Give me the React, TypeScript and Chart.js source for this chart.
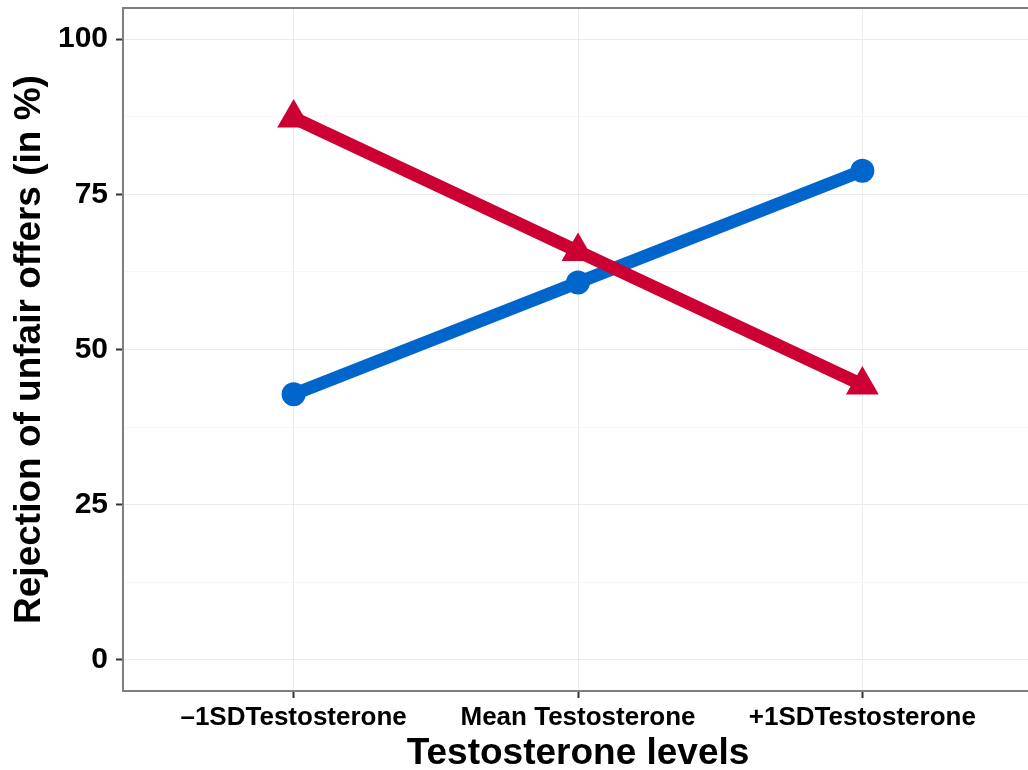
import React, { useEffect, useRef } from "react";
import { Chart, registerables } from "chart.js";

Chart.register(...registerables);

const categories = ["–1SDTestosterone", "Mean Testosterone", "+1SDTestosterone"];
const seriesRed = [87.3, 65.8, 44.3];
const seriesBlue = [42.8, 60.8, 78.8];
const yTicks = [0, 12.5, 25, 37.5, 50, 62.5, 75, 87.5, 100];
const yLabelled = [0, 25, 50, 75, 100];

const FONT = "'Liberation Sans', Arial, Helvetica, sans-serif";

const framePlugin = {
  id: "frame",
  afterDraw(chart: any) {
    const { ctx, chartArea } = chart;
    ctx.save();
    ctx.strokeStyle = "#7f7f7f";
    ctx.lineWidth = 2;
    ctx.strokeRect(chartArea.left, chartArea.top, chartArea.right - chartArea.left, chartArea.bottom - chartArea.top);
    ctx.restore();
  },
};

const zeroPadding = (scale: any) => {
  scale.paddingTop = 0;
  scale.paddingBottom = 0;
  scale.paddingLeft = 0;
  scale.paddingRight = 0;
};

export default function App() {
  const ref = useRef<HTMLCanvasElement | null>(null);

  useEffect(() => {
    document.body.style.margin = "0";
    const canvas = ref.current;
    if (!canvas) return;
    const chart = new Chart(canvas, {
      type: "line",
      data: {
        datasets: [
          {
            label: "Condition B",
            data: seriesRed.map((v, i) => ({ x: i, y: v })),
            borderColor: "#CC0033",
            backgroundColor: "#CC0033",
            borderWidth: 13,
            pointStyle: "triangle",
            pointRadius: 19,
            pointBorderWidth: 0,
            pointBackgroundColor: "#CC0033",
            tension: 0,
          },
          {
            label: "Condition A",
            data: seriesBlue.map((v, i) => ({ x: i, y: v })),
            borderColor: "#0066CC",
            backgroundColor: "#0066CC",
            borderWidth: 13,
            pointStyle: "circle",
            pointRadius: 12,
            pointBorderWidth: 0,
            pointBackgroundColor: "#0066CC",
            tension: 0,
          },
        ],
      },
      plugins: [framePlugin],
      options: {
        animation: false,
        responsive: false,
        devicePixelRatio: 1,
        layout: { autoPadding: false, padding: { top: 8, right: 3, left: 0, bottom: 0 } },
        plugins: { legend: { display: false }, tooltip: { enabled: false } },
        scales: {
          x: {
            type: "linear",
            min: -0.6,
            max: 2.6,
            afterBuildTicks: (scale: any) => {
              scale.ticks = categories.map((_, i) => ({ value: i }));
            },
            afterFit: (scale: any) => {
              scale.height = 79;
              zeroPadding(scale);
            },
            ticks: {
              autoSkip: false,
              maxRotation: 0,
              padding: 4,
              color: "#000",
              font: { family: FONT, size: 26, weight: "bold" },
              callback: (v: any) => categories[Math.round(Number(v))] ?? "",
            },
            grid: {
              color: "#ebebeb",
              lineWidth: 1,
              drawTicks: true,
              tickLength: 7,
              tickColor: "#333333",
              tickWidth: 2,
            },
            border: { display: false },
            title: {
              display: true,
              text: "Testosterone levels",
              color: "#000",
              font: { family: FONT, size: 37, weight: "bold", lineHeight: 0.85 },
              padding: { top: 0, bottom: 0 },
            },
          },
          y: {
            type: "linear",
            min: -5,
            max: 105,
            afterBuildTicks: (scale: any) => {
              scale.ticks = yTicks.map((v) => ({ value: v }));
            },
            afterFit: (scale: any) => {
              scale.width = 123;
              zeroPadding(scale);
            },
            ticks: {
              autoSkip: false,
              padding: 8,
              color: "#000",
              font: { family: FONT, size: 30, weight: "bold" },
              callback: (v: any) => (yLabelled.includes(Number(v)) ? String(v) : ""),
            },
            grid: {
              color: (c: any) => (yLabelled.includes(c.tick?.value) ? "#ebebeb" : "#f6f6f6"),
              lineWidth: 1,
              drawTicks: true,
              tickLength: 7,
              tickColor: (c: any) => (yLabelled.includes(c.tick?.value) ? "#333333" : "rgba(0,0,0,0)"),
              tickWidth: 2,
            },
            border: { display: false },
            title: {
              display: true,
              text: "Rejection of unfair offers (in %)",
              color: "#000",
              font: { family: FONT, size: 37, weight: "bold", lineHeight: 1 },
              padding: { top: 11, bottom: 0 },
            },
          },
        },
      },
    } as any);
    return () => chart.destroy();
  }, []);

  return (
    <div style={{ position: "fixed", left: 0, top: 0, width: 1028, height: 770, overflow: "hidden", background: "#fff" }}>
      <canvas ref={ref} width={1036} height={770} style={{ width: 1036, height: 770, display: "block" }} />
    </div>
  );
}
